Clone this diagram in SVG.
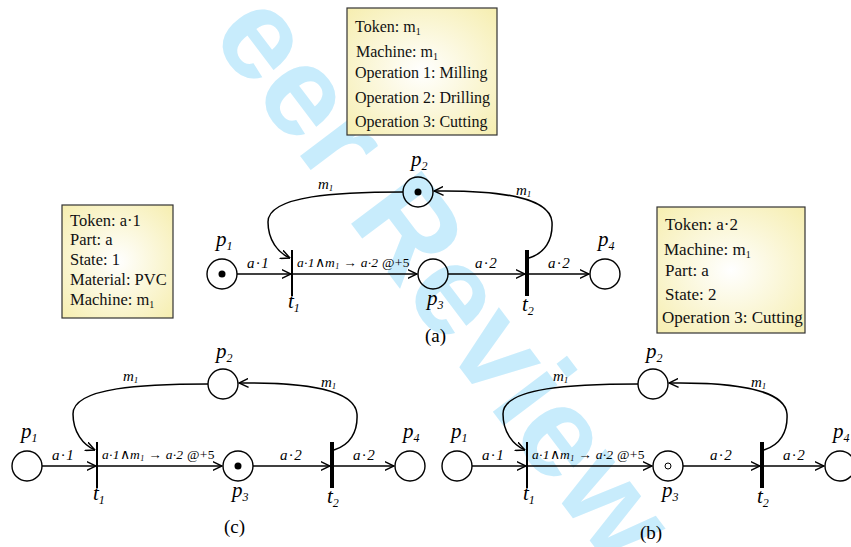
<svg xmlns="http://www.w3.org/2000/svg" width="851" height="547" viewBox="0 0 851 547">
<defs>
<radialGradient id="boxfill" cx="50%" cy="50%" r="70%">
<stop offset="0" stop-color="#ffffff"/>
<stop offset="1" stop-color="#f6eeb0"/>
</radialGradient>
<marker id="arr" viewBox="0 0 10 10" refX="9.5" refY="5" markerWidth="10" markerHeight="10" markerUnits="userSpaceOnUse" orient="auto">
<path d="M0,0.5 L9.5,5 L0,9.5" fill="none" stroke="#000" stroke-width="1.4"/>
</marker>
<style>
.box rect{fill:url(#boxfill);stroke:#333;stroke-width:1.2}
.box text{font-family:'Liberation Serif','Times New Roman',serif;font-size:16px;fill:#111}
#box-left text{font-size:16.5px}
#box-right text{font-size:17px}
.box .sub{font-size:10px}
.ring{fill:none;stroke:#000;stroke-width:1.4}
.tok{fill:#000}
.htok{fill:none;stroke:#000;stroke-width:1}
.bar{fill:#000}
.edge{fill:none;stroke:#000;stroke-width:1.5;marker-end:url(#arr)}
.nm{font-family:'Liberation Serif','Times New Roman',serif;font-style:italic;font-size:21px}
.s{font-size:12px}
.el{font-family:'Liberation Serif','Times New Roman',serif;font-style:italic;font-size:15px;letter-spacing:1.5px}
.ml{font-family:'Liberation Serif','Times New Roman',serif;font-style:italic;font-size:15px}
.ml .s{font-size:9px}
.tl{font-family:'Liberation Serif','Times New Roman',serif;font-style:italic;font-size:13.5px;letter-spacing:0.3px}
.tl .s{font-size:8px}
.up{font-style:normal}
.cap{font-family:'Liberation Serif','Times New Roman',serif;font-size:19px}
.wm{font-family:'Liberation Sans',Arial,sans-serif;font-weight:bold;font-size:128px;fill:#c8ecfc}
</style>
</defs>
<rect width="851" height="547" fill="#fff"/>
<text class="wm" x="209" y="35" transform="rotate(53 209 35)">eer Review</text>

<g id="box-top" class="box">
<rect x="347" y="8" width="150" height="127"/>
<text x="355" y="32">Token: m<tspan class="sub" dy="3">1</tspan></text>
<text x="356" y="57">Machine: m<tspan class="sub" dy="3">1</tspan></text>
<text x="355" y="78">Operation 1: Milling</text>
<text x="355" y="103">Operation 2: Drilling</text>
<text x="355" y="127">Operation 3: Cutting</text>
</g>
<g id="box-left" class="box">
<rect x="62" y="205" width="111" height="113"/>
<text x="70" y="226">Token: a·1</text>
<text x="70" y="245">Part: a</text>
<text x="70" y="265">State: 1</text>
<text x="70" y="285">Material: PVC</text>
<text x="70" y="305">Machine: m<tspan class="sub" dy="3">1</tspan></text>
</g>
<g id="box-right" class="box">
<rect x="657" y="207" width="148" height="126"/>
<text x="665" y="230">Token: a·2</text>
<text x="664" y="255">Machine: m<tspan class="sub" dy="3">1</tspan></text>
<text x="665" y="276">Part: a</text>
<text x="665" y="300">State: 2</text>
<text x="662" y="323">Operation 3: Cutting</text>
</g>

<g id="connectors">
<g id="conn-a">
<path class="edge" d="M237,274 H291"/>
<path class="edge" d="M293,274 H417"/>
<path class="edge" d="M448,274 H525"/>
<path class="edge" d="M529,274 H589"/>
<path class="edge" d="M403,192 C340,192 268,195 268,222 C268,240 278,253 290,258"/>
<path class="edge" d="M529,258 C545,253 553,240 552,222 C550,198 500,190 434,191"/>
<text class="el" x="247" y="268">a·1</text>
<text class="tl" x="297" y="267">a·1<tspan class="up">∧</tspan>m<tspan class="s" dy="2">1</tspan><tspan dy="-2"> </tspan><tspan class="up">→</tspan> a·2 <tspan class="up">@+5</tspan></text>
<text class="el" x="475" y="268">a·2</text>
<text class="el" x="548" y="268">a·2</text>
<text class="ml" x="318" y="189">m<tspan class="s" dy="2">1</tspan></text>
<text class="ml" x="516" y="195">m<tspan class="s" dy="2">1</tspan></text>
</g>
<g id="conn-c" transform="translate(-195,192)">
<path class="edge" d="M237,274 H291"/>
<path class="edge" d="M293,274 H417"/>
<path class="edge" d="M448,274 H525"/>
<path class="edge" d="M529,274 H589"/>
<path class="edge" d="M403,192 C340,192 268,195 268,222 C268,240 278,253 290,258"/>
<path class="edge" d="M529,258 C545,253 553,240 552,222 C550,198 500,190 434,191"/>
<text class="el" x="247" y="268">a·1</text>
<text class="tl" x="297" y="267">a·1<tspan class="up">∧</tspan>m<tspan class="s" dy="2">1</tspan><tspan dy="-2"> </tspan><tspan class="up">→</tspan> a·2 <tspan class="up">@+5</tspan></text>
<text class="el" x="475" y="268">a·2</text>
<text class="el" x="548" y="268">a·2</text>
<text class="ml" x="318" y="189">m<tspan class="s" dy="2">1</tspan></text>
<text class="ml" x="516" y="195">m<tspan class="s" dy="2">1</tspan></text>
</g>
<g id="conn-b" transform="translate(235,192)">
<path class="edge" d="M237,274 H291"/>
<path class="edge" d="M293,274 H417"/>
<path class="edge" d="M448,274 H525"/>
<path class="edge" d="M529,274 H589"/>
<path class="edge" d="M403,192 C340,192 268,195 268,222 C268,240 278,253 290,258"/>
<path class="edge" d="M529,258 C545,253 553,240 552,222 C550,198 500,190 434,191"/>
<text class="el" x="247" y="268">a·1</text>
<text class="tl" x="297" y="267">a·1<tspan class="up">∧</tspan>m<tspan class="s" dy="2">1</tspan><tspan dy="-2"> </tspan><tspan class="up">→</tspan> a·2 <tspan class="up">@+5</tspan></text>
<text class="el" x="475" y="268">a·2</text>
<text class="el" x="548" y="268">a·2</text>
<text class="ml" x="318" y="189">m<tspan class="s" dy="2">1</tspan></text>
<text class="ml" x="516" y="195">m<tspan class="s" dy="2">1</tspan></text>
</g>
</g>

<g id="net-a">
<g id="a-p1"><circle class="ring" cx="222" cy="274" r="15"/><circle class="tok" cx="222" cy="274" r="3.5"/><text class="nm" x="216" y="246">p<tspan class="s" dy="4">1</tspan></text></g>
<g id="a-p2"><circle class="ring" cx="418" cy="192" r="15"/><circle class="tok" cx="418" cy="192" r="3.5"/><text class="nm" x="411" y="166">p<tspan class="s" dy="4">2</tspan></text></g>
<g id="a-p3"><circle class="ring" cx="433" cy="274" r="15"/><text class="nm" x="427" y="305">p<tspan class="s" dy="4">3</tspan></text></g>
<g id="a-p4"><circle class="ring" cx="605" cy="274" r="15"/><text class="nm" x="598" y="246">p<tspan class="s" dy="4">4</tspan></text></g>
<g id="a-t1"><rect class="bar" x="291" y="250" width="2" height="46"/><text class="nm" x="288" y="308">t<tspan class="s" dy="4">1</tspan></text></g>
<g id="a-t2"><rect class="bar" x="525" y="250" width="4" height="46"/><text class="nm" x="522" y="311">t<tspan class="s" dy="4">2</tspan></text></g>
<text class="cap" x="425" y="342">(a)</text>
</g>

<g id="net-c" transform="translate(-195,192)">
<g id="c-p1"><circle class="ring" cx="222" cy="274" r="15"/><text class="nm" x="216" y="246">p<tspan class="s" dy="4">1</tspan></text></g>
<g id="c-p2"><circle class="ring" cx="418" cy="192" r="15"/><text class="nm" x="411" y="166">p<tspan class="s" dy="4">2</tspan></text></g>
<g id="c-p3"><circle class="ring" cx="433" cy="274" r="15"/><circle class="tok" cx="433" cy="274" r="3.5"/><text class="nm" x="427" y="305">p<tspan class="s" dy="4">3</tspan></text></g>
<g id="c-p4"><circle class="ring" cx="605" cy="274" r="15"/><text class="nm" x="598" y="246">p<tspan class="s" dy="4">4</tspan></text></g>
<g id="c-t1"><rect class="bar" x="291" y="250" width="2" height="46"/><text class="nm" x="288" y="308">t<tspan class="s" dy="4">1</tspan></text></g>
<g id="c-t2"><rect class="bar" x="525" y="250" width="4" height="46"/><text class="nm" x="522" y="311">t<tspan class="s" dy="4">2</tspan></text></g>
<text class="cap" x="419" y="341">(c)</text>
</g>

<g id="net-b" transform="translate(235,192)">
<g id="b-p1"><circle class="ring" cx="222" cy="274" r="15"/><text class="nm" x="216" y="246">p<tspan class="s" dy="4">1</tspan></text></g>
<g id="b-p2"><circle class="ring" cx="418" cy="192" r="15"/><text class="nm" x="411" y="166">p<tspan class="s" dy="4">2</tspan></text></g>
<g id="b-p3"><circle class="ring" cx="433" cy="274" r="15"/><circle class="htok" cx="433" cy="274" r="3"/><text class="nm" x="427" y="305">p<tspan class="s" dy="4">3</tspan></text></g>
<g id="b-p4"><circle class="ring" cx="605" cy="274" r="15"/><text class="nm" x="598" y="246">p<tspan class="s" dy="4">4</tspan></text></g>
<g id="b-t1"><rect class="bar" x="291" y="250" width="2" height="46"/><text class="nm" x="288" y="308">t<tspan class="s" dy="4">1</tspan></text></g>
<g id="b-t2"><rect class="bar" x="525" y="250" width="4" height="46"/><text class="nm" x="522" y="311">t<tspan class="s" dy="4">2</tspan></text></g>
<text class="cap" x="405" y="347">(b)</text>
</g>
</svg>
